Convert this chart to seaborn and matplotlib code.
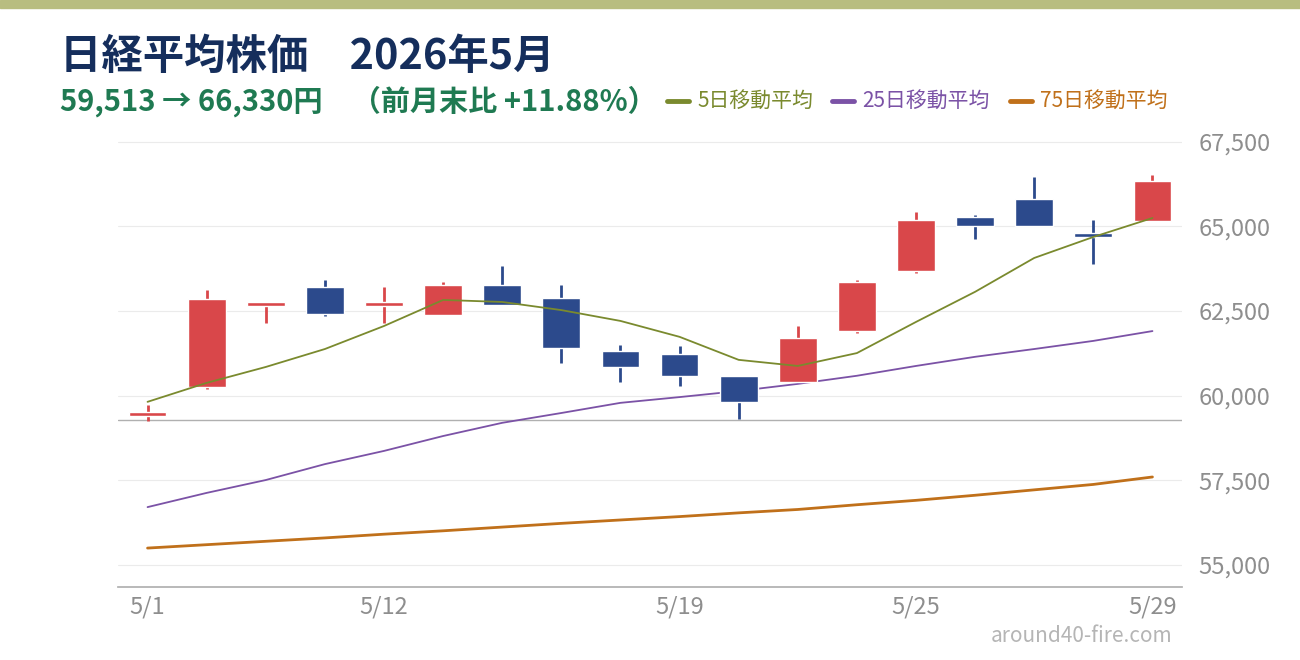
import matplotlib
matplotlib.use("Agg")
import matplotlib.pyplot as plt
import seaborn as sns
import pandas as pd
import numpy as np
from matplotlib.lines import Line2D
from matplotlib.patches import Rectangle

dates = ["5/1","5/7","5/8","5/11","5/12","5/13","5/14","5/15","5/18","5/19",
         "5/20","5/21","5/22","5/25","5/26","5/27","5/28","5/29"]
opens  = [59400,60260,62680,63215,62660,62390,63270,62890,61320,61230,60590,60410,61910,63690,65280,65820,64780,65170]
closes = [59520,62860,62720,62420,62740,63270,62680,61410,60850,60590,59820,61710,63360,65200,65020,65020,64720,66330]
highs  = [59720,63130,62720,63420,63220,63360,63840,63270,61500,61470,60590,62060,63420,65430,65340,66470,65200,66520]
lows   = [59260,60200,62150,62360,62150,62390,62680,60970,60410,60290,59310,60410,61860,63630,64630,65020,63890,65170]
ma5  = [59820,60380,60850,61380,62060,62830,62770,62530,62210,61740,61060,60880,61260,62180,63070,64070,64690,65250]
ma25 = [56710,57130,57510,57980,58370,58810,59200,59490,59790,59960,60140,60350,60590,60880,61150,61380,61620,61910]
ma75 = [55500,55600,55700,55800,55910,56010,56120,56230,56330,56430,56540,56640,56780,56910,57060,57220,57380,57600]
tick_idx = [0, 4, 9, 13, 17]
yticks = [55000, 57500, 60000, 62500, 65000, 67500]
ref_level = 59280

sns.set_theme(style="white")
plt.rcParams['font.family'] = ['Noto Sans CJK JP', 'DejaVu Sans']

UP, DOWN = "#d9474a", "#2c4a8c"
C5, C25, C75 = "#7a8a2e", "#7b52a6", "#c0701a"

fig = plt.figure(figsize=(13, 6.6), dpi=100)
fig.patches.append(Rectangle((0, 1 - 8/660), 1, 8/660, transform=fig.transFigure,
                             color="#b8bd80", zorder=0))
ax = fig.add_axes([118/1300, 1 - 587/660, (1182-118)/1300, (587-130)/660])

df = pd.DataFrame({"x": np.arange(len(dates)), "ma5": ma5, "ma25": ma25, "ma75": ma75})
for y in yticks:
    ax.axhline(y, color="#ebebeb", lw=0.8, zorder=0)
ax.axhline(ref_level, color="#b0b0b0", lw=1.0, zorder=0)

sns.lineplot(data=df, x="x", y="ma75", ax=ax, color=C75, lw=2.0, zorder=2)
sns.lineplot(data=df, x="x", y="ma25", ax=ax, color=C25, lw=1.3, zorder=2)
for i in range(len(dates)):
    c = UP if closes[i] >= opens[i] else DOWN
    ax.vlines(i, lows[i], highs[i], color=c, lw=2, zorder=3)
    lo, hi = min(opens[i], closes[i]), max(opens[i], closes[i])
    h = max(hi - lo, 120)
    ax.bar(i, h, bottom=lo - (h - (hi - lo)) / 2, width=0.64, color=c, zorder=3)
sns.lineplot(data=df, x="x", y="ma5", ax=ax, color=C5, lw=1.3, zorder=4)

ax.set_xlim(-0.5, 17.5)
ax.set_ylim(54350, 67850)
ax.set_xticks(tick_idx)
ax.set_xticklabels([dates[i] for i in tick_idx])
ax.set_yticks(yticks)
ax.set_yticklabels([f"{v:,}" for v in yticks])
ax.yaxis.tick_right()
ax.tick_params(axis="both", labelsize=17, colors="#8e8e8e", length=0, pad=6)
ax.tick_params(axis="y", pad=12)
ax.set_xlabel(""); ax.set_ylabel("")
for s in ["top", "left", "right"]:
    ax.spines[s].set_visible(False)
ax.spines["bottom"].set_color("#b0b0b0")

fig.text(60/1300, 1 - 57/660, "日経平均株価　2026年5月", fontsize=29.8, fontweight="bold",
         color="#152e5c", va="center")
fig.text(60/1300, 1 - 101/660, "59,513 → 66,330円　（前月末比 +11.88%）", fontsize=21,
         fontweight="bold", color="#1f7a52", va="center")
for x0, col, lab in [(667, C5, "5日移動平均"), (832, C25, "25日移動平均"), (1010, C75, "75日移動平均")]:
    fig.lines.append(Line2D([x0/1300, (x0+22)/1300], [1-101/660]*2, color=col, lw=3.5,
                            transform=fig.transFigure))
    fig.text((x0+30)/1300, 1 - 101/660, lab, fontsize=15, color=col, va="center")
fig.text(1173/1300, 1 - 636/660, "around40-fire.com", fontsize=15, color="#b5b5b5",
         ha="right", va="center")
fig.savefig("out.png", dpi=100)
